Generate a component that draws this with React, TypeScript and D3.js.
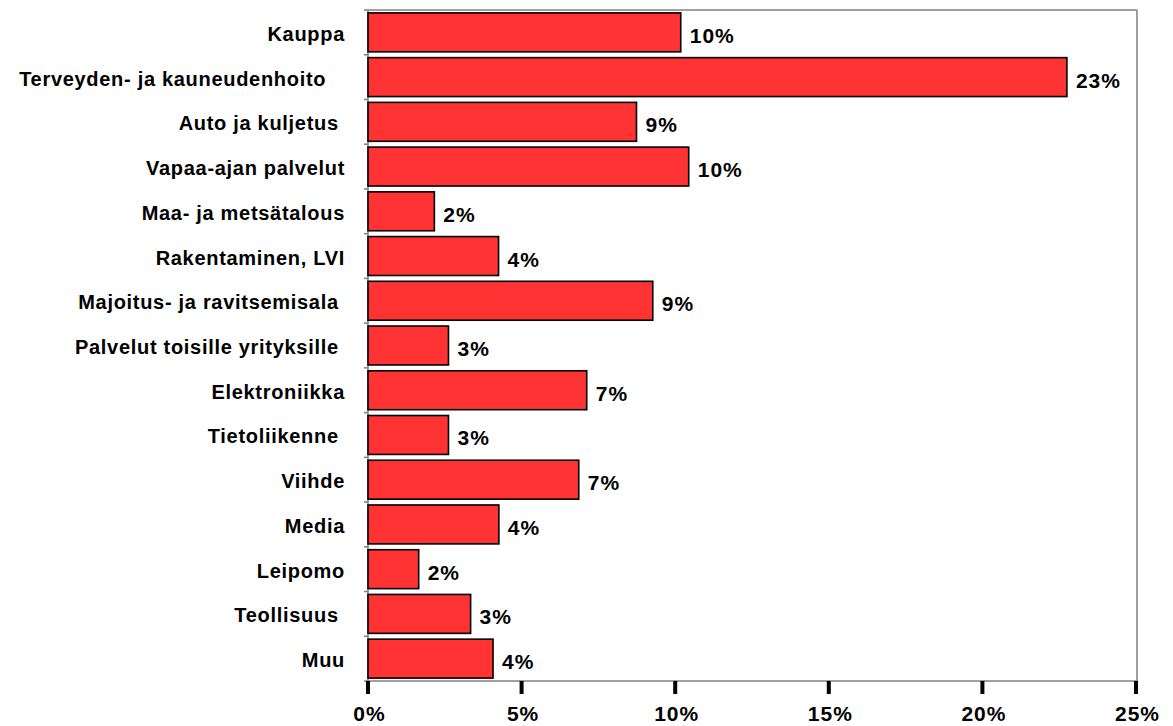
import React from "react";
import * as d3 from "d3";

const categories: string[] = [
  "Kauppa",
  "Terveyden- ja kauneudenhoito   ",
  "Auto ja kuljetus ",
  "Vapaa-ajan palvelut",
  "Maa- ja metsätalous",
  "Rakentaminen, LVI",
  "Majoitus- ja ravitsemisala ",
  "Palvelut toisille yrityksille ",
  "Elektroniikka",
  "Tietoliikenne ",
  "Viihde",
  "Media",
  "Leipomo",
  "Teollisuus ",
  "Muu",
];

const values: number[] = [
  10.18, 22.75, 8.74, 10.44, 2.16, 4.25, 9.27, 2.62, 7.12, 2.62, 6.86, 4.26, 1.65, 3.34, 4.07,
];

const xTicks: number[] = [0, 5, 10, 15, 20, 25];

const W = 1173;
const H = 726;
const M = { left: 368, right: 1136, top: 10, bottom: 681 };
const FONT = "'Liberation Sans', Arial, sans-serif";

export default function App() {
  const x = d3.scaleLinear().domain([0, 25]).range([M.left, M.right]);
  const y = d3
    .scaleBand<string>()
    .domain(categories)
    .range([M.top, M.bottom])
    .paddingInner(0.13)
    .paddingOuter(0.065);
  const n = categories.length;
  const bounds = d3.range(n + 1).map((i) => M.top + i * ((M.bottom - M.top) / n));

  return (
    <div style={{ position: "fixed", left: 0, top: 0, width: W, height: H, background: "#fff" }}>
      <svg width={W} height={H} style={{ display: "block" }} fontFamily={FONT}>
        <rect x={0} y={0} width={W} height={H} fill="#fff" />
        {/* plot border */}
        <line x1={M.left} x2={M.right + 1} y1={M.top} y2={M.top} stroke="#808080" strokeWidth={1.5} />
        <line x1={M.right + 1} x2={M.right + 1} y1={M.top} y2={M.bottom} stroke="#808080" strokeWidth={1.5} />
        {/* left axis */}
        <line x1={M.left} x2={M.left} y1={M.top} y2={M.bottom} stroke="#808080" strokeWidth={1.5} />
        {bounds.map((b, i) => (
          <line key={"yt" + i} x1={M.left - 4} x2={M.left} y1={b} y2={b} stroke="#808080" strokeWidth={1.5} />
        ))}
        {/* bars */}
        {categories.map((c, i) => (
          <rect
            key={"b" + i}
            x={x(0)}
            y={y(c)!}
            width={x(values[i]) - x(0)}
            height={y.bandwidth()}
            fill="#FF3333"
            stroke="#000"
            strokeWidth={1.6}
          />
        ))}
        {/* value labels */}
        {categories.map((c, i) => (
          <text
            key={"v" + i}
            x={x(values[i]) + 9}
            y={y(c)! + y.bandwidth() / 2 + 10.5}
            fontSize={21}
            fontWeight="bold"
            letterSpacing={1}
            fill="#000"
          >
            {Math.round(values[i]) + "%"}
          </text>
        ))}
        {/* category labels */}
        {categories.map((c, i) => (
          <text
            key={"c" + i}
            x={345}
            y={y(c)! + y.bandwidth() / 2 + 8.5}
            fontSize={20}
            fontWeight="bold"
            letterSpacing={0.7}
            textAnchor="end"
            fill="#000"
            style={{ whiteSpace: "pre" }}
          >
            {c}
          </text>
        ))}
        {/* x axis */}
        <line x1={M.left} x2={M.right + 1} y1={M.bottom} y2={M.bottom} stroke="#808080" strokeWidth={1.5} />
        {xTicks.map((t) => (
          <g key={"xt" + t}>
            <line x1={x(t)} x2={x(t)} y1={M.bottom} y2={M.bottom + 13} stroke="#000" strokeWidth={4} />
            <text x={x(t) + 1.5} y={721} fontSize={21} fontWeight="bold" letterSpacing={1} textAnchor="middle" fill="#000">
              {t + "%"}
            </text>
          </g>
        ))}
      </svg>
    </div>
  );
}
